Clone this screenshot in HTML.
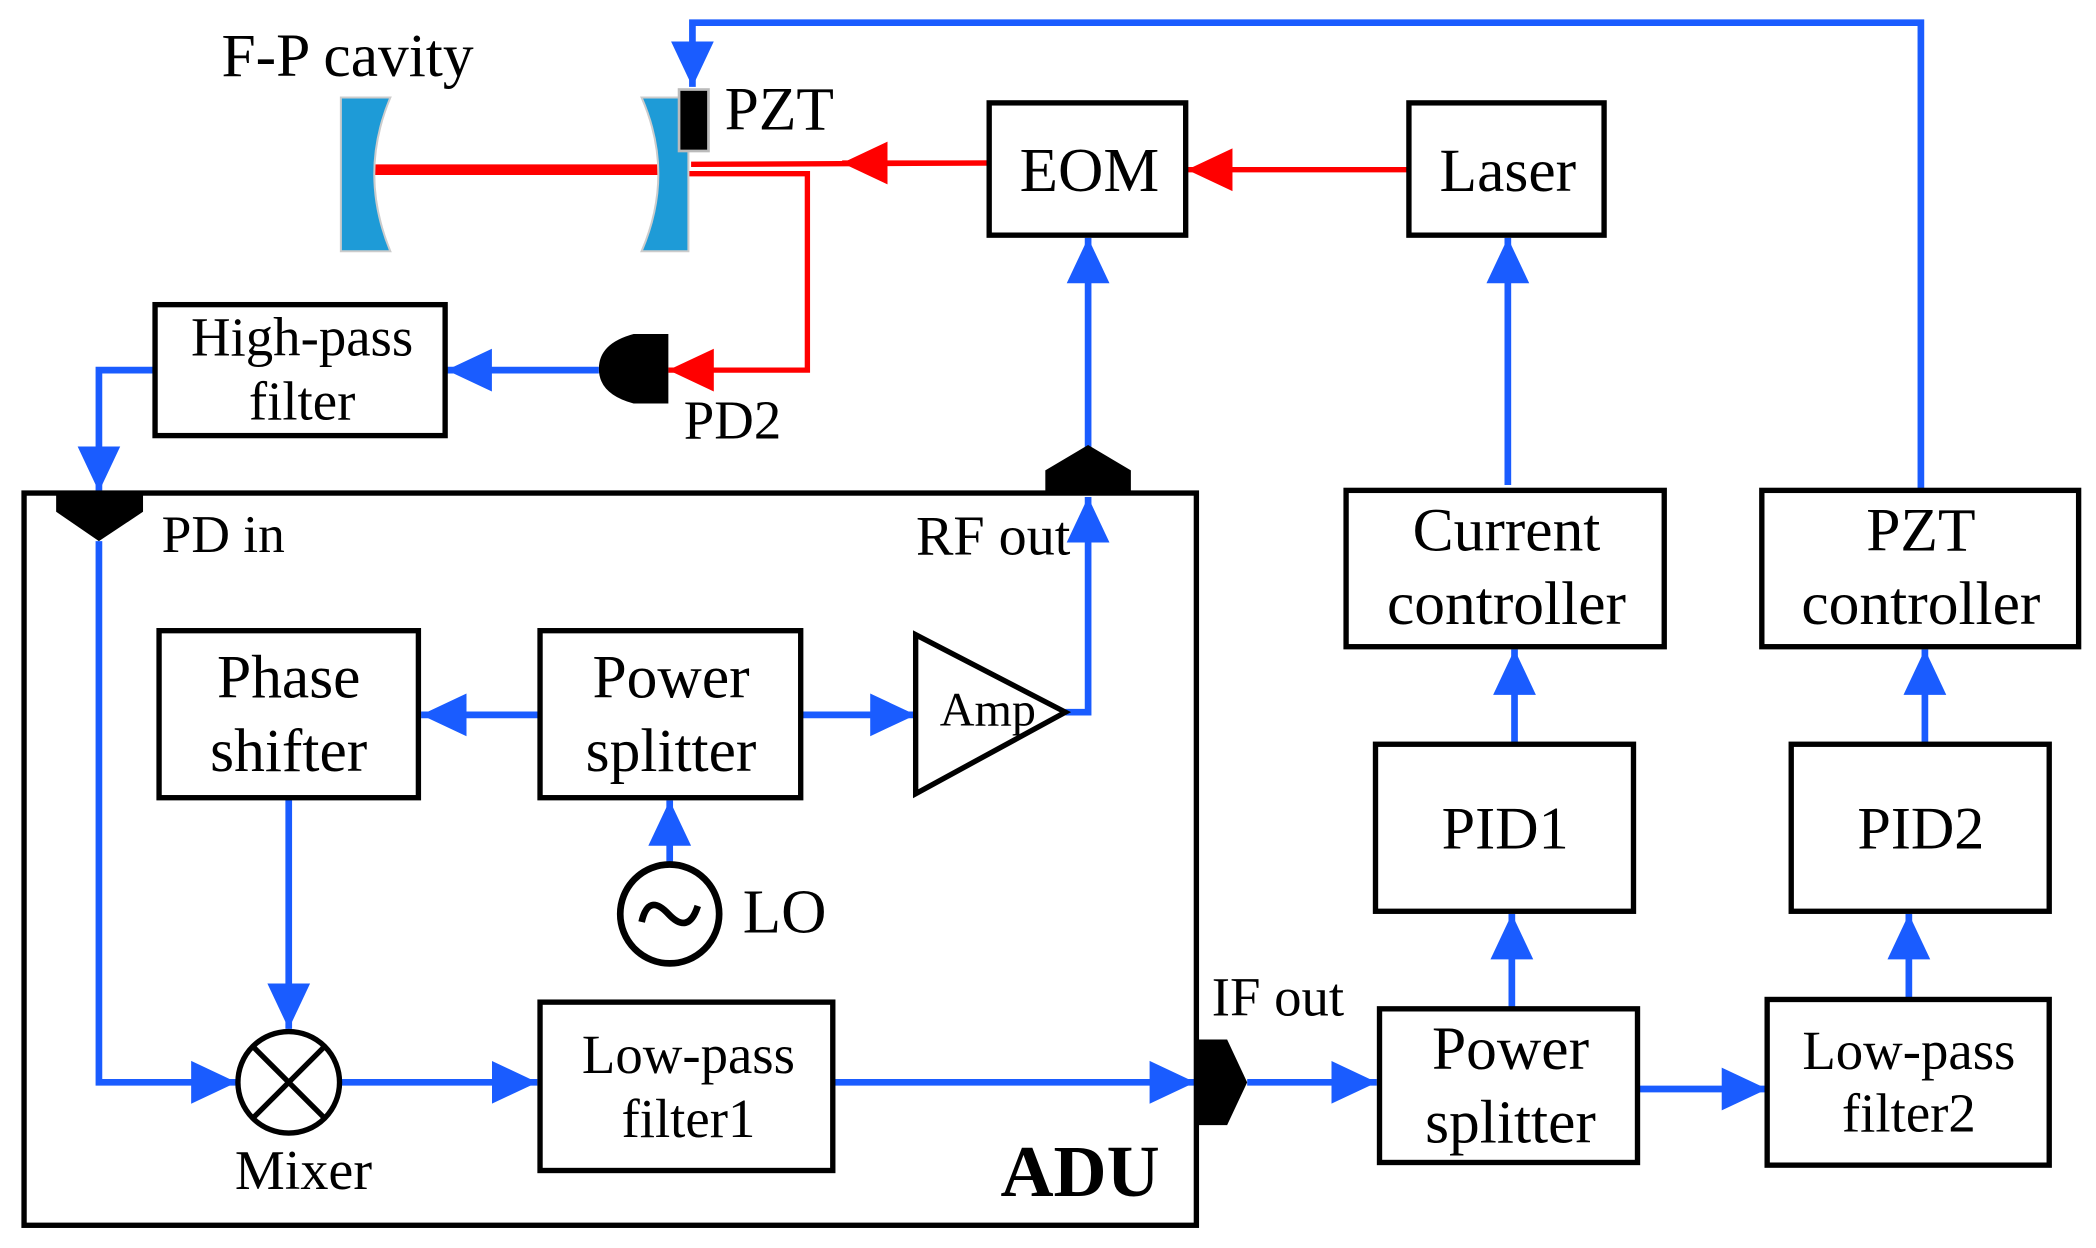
<!DOCTYPE html>
<html><head><meta charset="utf-8"><style>
html,body{margin:0;padding:0;background:#fff}
svg{display:block}
text{font-family:"Liberation Serif",serif;fill:#000}
</style></head><body>
<svg width="2096" height="1248" viewBox="0 0 1568 934" preserveAspectRatio="none" xmlns="http://www.w3.org/2000/svg">
<defs>
<marker id="b" markerUnits="userSpaceOnUse" markerWidth="34" markerHeight="34" refX="34" refY="17" orient="auto"><path d="M0,1 L34,17 L0,33 Z" fill="#1a5cff"/></marker>
<marker id="r" markerUnits="userSpaceOnUse" markerWidth="34" markerHeight="34" refX="34" refY="17" orient="auto"><path d="M0,1 L34,17 L0,33 Z" fill="#ff0000"/></marker>
</defs>
<g fill="none" stroke="#1a5cff" stroke-width="5">
<polyline points="1437,367 1437,17 518,17 518,65" marker-end="url(#b)"/>
<line x1="448" y1="277" x2="334" y2="277" marker-end="url(#b)"/>
<polyline points="116,277 74,277 74,368" marker-end="url(#b)"/>
<line x1="814" y1="335" x2="814" y2="178" marker-end="url(#b)"/>
<polyline points="797,533 814,533 814,372" marker-end="url(#b)"/>
<line x1="1128" y1="363" x2="1128" y2="178" marker-end="url(#b)"/>
<line x1="1133" y1="557" x2="1133" y2="486" marker-end="url(#b)"/>
<line x1="1440" y1="557" x2="1440" y2="486" marker-end="url(#b)"/>
<line x1="1131" y1="755" x2="1131" y2="684" marker-end="url(#b)"/>
<line x1="1428" y1="748" x2="1428" y2="684" marker-end="url(#b)"/>
<line x1="1225" y1="815" x2="1322" y2="815" marker-end="url(#b)"/>
<line x1="933" y1="810" x2="1030" y2="810" marker-end="url(#b)"/>
<line x1="404" y1="535" x2="315" y2="535" marker-end="url(#b)"/>
<line x1="599" y1="535" x2="685" y2="535" marker-end="url(#b)"/>
<line x1="501" y1="645" x2="501" y2="599" marker-end="url(#b)"/>
<line x1="216" y1="597" x2="216" y2="770" marker-end="url(#b)"/>
<polyline points="74,405 74,810 177,810" marker-end="url(#b)"/>
<line x1="254" y1="810" x2="402" y2="810" marker-end="url(#b)"/>
<line x1="623" y1="810" x2="894" y2="810" marker-end="url(#b)"/>
</g>
<g fill="none" stroke="#ff0000">
<line x1="276" y1="127" x2="492" y2="127" stroke-width="8" stroke-linecap="round"/>
<line x1="740" y1="122" x2="517" y2="123" stroke-width="4"/>
<line x1="740" y1="122" x2="630" y2="122" stroke-width="4" marker-end="url(#r)"/>
<polyline points="515,130 604,130 604,277 500,277" stroke-width="4" marker-end="url(#r)"/>
<line x1="1054" y1="127" x2="888" y2="127" stroke-width="4" marker-end="url(#r)"/>
</g>
<path d="M255,73 L292,73 Q268,130 292,188 L255,188 Z" fill="#1e9bd7" stroke="#ccc" stroke-width="1.5"/>
<path d="M480,73 L515,73 L515,188 L480,188 Q505,130 480,73 Z" fill="#1e9bd7" stroke="#ccc" stroke-width="1.5"/>
<rect x="508" y="67" width="22" height="46" fill="#000" stroke="#bbb" stroke-width="2"/>
<path d="M500,250 L500,302 L474,302 Q448,295 448,276 Q448,257 474,250 Z" fill="#000"/>
<path d="M42,368 L107,368 L107,383 L74,405 L42,383 Z" fill="#000"/>
<path d="M782,370 L846,370 L846,352 L814,333 L782,352 Z" fill="#000"/>
<path d="M895,778 L918,778 L933,810 L918,842 L895,842 Z" fill="#000"/>
<g fill="none" stroke="#000" stroke-width="4">
<rect x="18" y="369" width="877" height="548"/>
<rect x="116" y="228" width="217" height="98"/>
<rect x="740" y="77" width="147" height="99"/>
<rect x="1054" y="77" width="146" height="99"/>
<rect x="1007" y="367" width="238" height="117"/>
<rect x="1318" y="367" width="237" height="117"/>
<rect x="1029" y="557" width="193" height="125"/>
<rect x="1340" y="557" width="193" height="125"/>
<rect x="1032" y="755" width="193" height="115"/>
<rect x="1322" y="748" width="211" height="124"/>
<rect x="119" y="472" width="194" height="125"/>
<rect x="404" y="472" width="195" height="125"/>
<rect x="404" y="750" width="219" height="126"/>
<polygon points="685,475 685,594 797,533"/>
<circle cx="216" cy="810" r="38"/>
<line x1="189" y1="783" x2="243" y2="837"/><line x1="243" y1="783" x2="189" y2="837"/>
<circle cx="501" cy="684" r="37" stroke-width="5"/>
<path d="M480,690 Q485,668 500,684 Q515,700 522,678" stroke-width="5"/>
</g>
<g font-size="46" text-anchor="middle">
<text x="260" y="57">F-P cavity</text>
<text x="583" y="97">PZT</text>
<text x="815" y="143" font-size="47">EOM</text>
<text x="1128" y="143">Laser</text>
<text x="226" y="266" font-size="41">High-pass</text>
<text x="226" y="314" font-size="41">filter</text>
<text x="548" y="328" font-size="41">PD2</text>
<text x="167" y="413" font-size="40">PD in</text>
<text x="743" y="415" font-size="42">RF out</text>
<text x="1127" y="412">Current</text>
<text x="1127" y="467">controller</text>
<text x="1437" y="412">PZT</text>
<text x="1437" y="467">controller</text>
<text x="1126" y="635" font-size="45">PID1</text>
<text x="1437" y="635" font-size="45">PID2</text>
<text x="1130" y="800">Power</text>
<text x="1130" y="855">splitter</text>
<text x="1428" y="800" font-size="41">Low-pass</text>
<text x="1428" y="847" font-size="41">filter2</text>
<text x="956" y="760" font-size="41">IF out</text>
<text x="216" y="522">Phase</text>
<text x="216" y="577">shifter</text>
<text x="502" y="522">Power</text>
<text x="502" y="577">splitter</text>
<text x="739" y="543" font-size="36">Amp</text>
<text x="587" y="698" font-size="47">LO</text>
<text x="227" y="890" font-size="42">Mixer</text>
<text x="515" y="803" font-size="41">Low-pass</text>
<text x="515" y="851" font-size="41">filter1</text>
<text x="808" y="895" font-size="55" font-weight="bold">ADU</text>
</g>
</svg>
</body></html>
